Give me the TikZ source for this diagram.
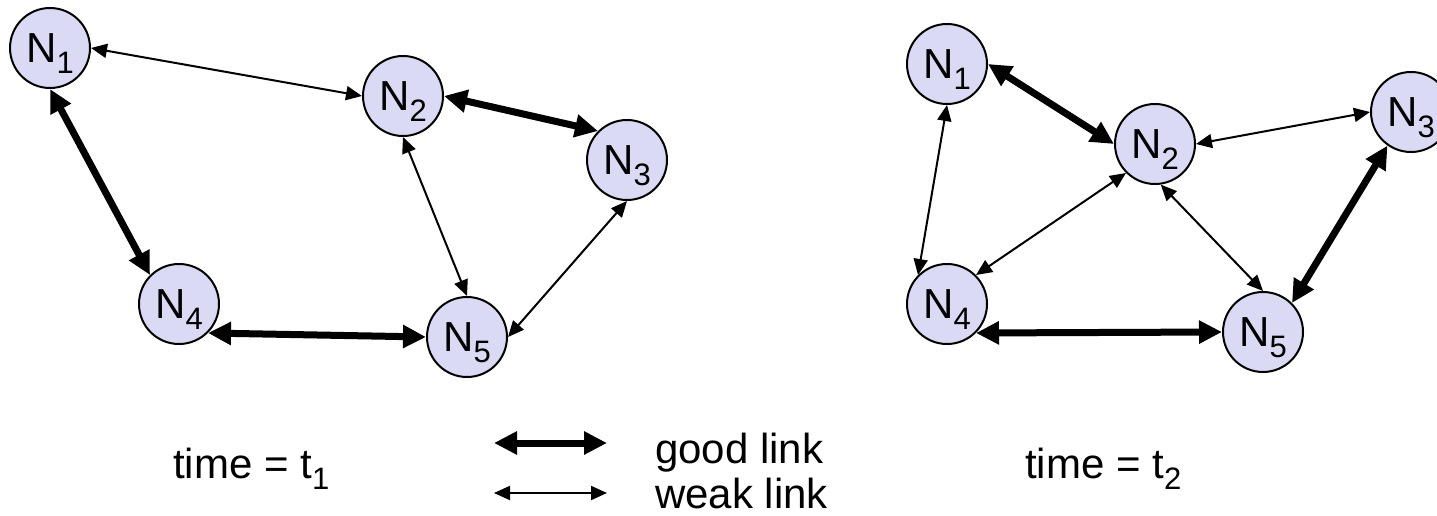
\documentclass[tikz,border=0pt]{standalone}
\usepackage{fontspec}
\setmainfont{Liberation Sans}
\usetikzlibrary{arrows.meta}
\definecolor{nodefill}{RGB}{218,218,245}
\newcommand\nlab[1]{N\smash{\raisebox{-11pt}{\fontsize{31}{31}\selectfont #1}}}
\newcommand\tsub[1]{\smash{\raisebox{-11pt}{\fontsize{31}{31}\selectfont #1}}}
\tikzset{
  nd/.style={circle,draw,line width=2pt,fill=nodefill,minimum size=80pt,inner sep=0pt,font=\fontsize{42}{42}\selectfont},
  txt/.style={inner sep=0pt,anchor=base west,font=\fontsize{42}{42}\selectfont},
  good/.style={{Triangle[length=23pt,width=22pt]}-{Triangle[length=23pt,width=22pt]},line width=7pt},
  weak/.style={{Triangle[length=16pt,width=14pt]}-{Triangle[length=16pt,width=14pt]},line width=2pt}
}
\begin{document}
\begin{tikzpicture}[x=1pt,y=-1pt]
\useasboundingbox (0,0) rectangle (1437,516);
% left graph (time t1)
\node[nd] (a1) at (50,48) {\nlab{1}};
\node[nd] (a2) at (403,96) {\nlab{2}};
\node[nd] (a3) at (627,160) {\nlab{3}};
\node[nd] (a4) at (179,304) {\nlab{4}};
\node[nd] (a5) at (467,337) {\nlab{5}};
\draw[weak] (a1.east) -- (a2.west);
\draw[good] (a1.south) -- (a4.135);
\draw[good] (a2.east) -- (a3.135);
\draw[weak] (a2.south) -- (a5.north);
\draw[weak] (a3.south) -- (a5.east);
\draw[good] (a4.-45) -- (a5.west);
% right graph (time t2)
\node[nd] (b1) at (947,64) {\nlab{1}};
\node[nd] (b2) at (1155,144) {\nlab{2}};
\node[nd] (b3) at (1411,112) {\nlab{3}};
\node[nd] (b4) at (947,304) {\nlab{4}};
\node[nd] (b5) at (1263,332) {\nlab{5}};
\draw[good] (b1.east) -- (b2.west);
\draw[weak] (b1.south) -- (b4.135);
\draw[weak] (b2.225) -- (b4.45);
\draw[weak] (b2.east) -- (b3.west);
\draw[weak] (b2.-82) -- (b5.north);
\draw[good] (b3.-125) -- (b5.45);
\draw[good] (b4.-45) -- (b5.west);
% legend
\coordinate (g1) at (494,443);
\coordinate (g2) at (607,443);
\coordinate (w1) at (494,493);
\coordinate (w2) at (607,493);
\draw[good] (g1) -- (g2);
\draw[weak] (w1) -- (w2);
\node[txt] (gl) at (655,463) {good link};
\node[txt] (wl) at (655,508) {weak link};
\node[txt] (t1) at (173,478) {time = t\tsub{1}};
\node[txt] (t2) at (1025,478) {time = t\tsub{2}};
\end{tikzpicture}
\end{document}
